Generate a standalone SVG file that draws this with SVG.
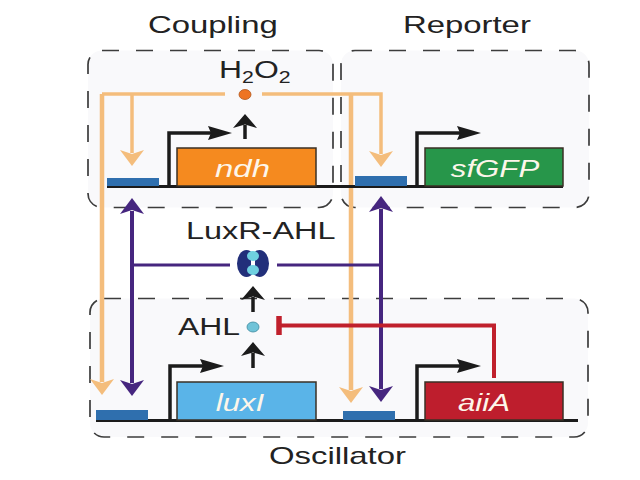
<svg xmlns="http://www.w3.org/2000/svg" width="640" height="480" viewBox="0 0 640 480">
<defs>
<style>
.panel{fill:#f9f9fb;stroke:#3c3c3c;stroke-width:1.7;stroke-dasharray:17 17}
.lbl{font-family:"Liberation Sans",Arial,sans-serif;fill:#222;font-size:24px}
.gene{font-family:"Liberation Sans",Arial,sans-serif;font-style:italic;fill:#fdf6ea;font-size:24px;text-anchor:middle}
.or{fill:none;stroke:#f4bd7c;stroke-width:4.500}
.orh{fill:none;stroke:#f4bd7c;stroke-width:3.500}
.pu{fill:none;stroke:#46267f;stroke-width:4}
.puh{fill:none;stroke:#46267f;stroke-width:3}
.bl{fill:none;stroke:#1b1b1b;stroke-width:3.500}
.base{stroke:#1b1b1b;stroke-width:3;fill:none}
.site{fill:#2f6fae}
.box{stroke:#3a3026;stroke-width:1.5}
</style>
<marker id="ao" markerUnits="userSpaceOnUse" markerWidth="20" markerHeight="26" refX="3" refY="12" orient="auto"><path d="M0 0L16 12L0 24L4 12Z" fill="#f4bd7c"/></marker>
<marker id="ap" markerUnits="userSpaceOnUse" markerWidth="20" markerHeight="26" refX="3" refY="12" orient="auto-start-reverse"><path d="M0 0L16 12L0 24L4 12Z" fill="#46267f"/></marker>
<marker id="ab" markerUnits="userSpaceOnUse" markerWidth="26" markerHeight="16" refX="3" refY="7" orient="auto"><path d="M0 0L24 7L0 14L3 7Z" fill="#1b1b1b"/></marker>
<marker id="as" markerUnits="userSpaceOnUse" markerWidth="18" markerHeight="26" refX="3" refY="12" orient="auto"><path d="M0 0L14 12L0 24L3.500 12Z" fill="#1b1b1b"/></marker>
</defs>
<rect width="640" height="480" fill="#fff"/>
<g id="panel-coupling"><rect class="panel" x="88" y="50.500" width="245" height="157" rx="14"/></g>
<g id="panel-reporter"><rect class="panel" x="341" y="50.500" width="248" height="157" rx="14"/></g>
<g id="panel-oscillator"><rect class="panel" x="90" y="298.500" width="498" height="138.500" rx="14"/></g>
<g id="titles">
<text class="lbl" transform="translate(148 33) scale(1.37 1)">Coupling</text>
<text class="lbl" transform="translate(403 33) scale(1.37 1)">Reporter</text>
<text class="lbl" transform="translate(269 464) scale(1.37 1)">Oscillator</text>
</g>
<g id="connectors">
<path class="orh" d="M225 94H102"/>
<path class="or" d="M102 94V382" marker-end="url(#ao)"/>
<path class="orh" d="M132 94V153" marker-end="url(#ao)"/>
<path class="orh" d="M262 94H381V154" marker-end="url(#ao)"/>
<path class="or" d="M351 94V390" marker-end="url(#ao)"/>
<path class="pu" d="M132 211V383" marker-start="url(#ap)" marker-end="url(#ap)"/>
<path class="pu" d="M381 209V389" marker-start="url(#ap)" marker-end="url(#ap)"/>
<path class="puh" d="M134 265H230M277 265H381"/>
<path fill="none" stroke="#c0202c" stroke-width="4" d="M280 325.500H494V378"/>
<path fill="none" stroke="#c0202c" stroke-width="5.500" d="M279 316V335"/>
<path class="bl" d="M245 139V125" marker-end="url(#as)"/>
<path class="bl" d="M253 312V297" marker-end="url(#as)"/>
<path class="bl" d="M253 368V353" marker-end="url(#as)"/>
<path class="bl" d="M169 186V133H211" marker-end="url(#ab)"/>
<path class="bl" d="M417 186V133H460" marker-end="url(#ab)"/>
<path class="bl" d="M170 420V366H203" marker-end="url(#ab)"/>
<path class="bl" d="M417 420V366H460" marker-end="url(#ab)"/>
<path class="base" d="M107 186.500H563"/>
<path class="base" d="M96 420.500H578"/>
</g>
<g id="site-1"><rect class="site" x="107" y="178" width="52" height="8"/></g>
<g id="site-2"><rect class="site" x="355" y="176" width="52" height="10"/></g>
<g id="site-3"><rect class="site" x="96" y="410" width="52" height="10"/></g>
<g id="site-4"><rect class="site" x="343" y="411" width="52" height="9"/></g>
<g id="ndh"><rect class="box" x="177" y="148" width="139" height="38" fill="#f58a1f"/><text class="gene" transform="translate(242.500 177) scale(1.37 1)">ndh</text></g>
<g id="sfGFP"><rect class="box" x="425" y="148" width="138" height="38" fill="#27964a"/><text class="gene" transform="translate(495 177) scale(1.3 1)">sfGFP</text></g>
<g id="luxI"><rect class="box" x="177" y="382" width="139" height="38" fill="#5ab4e8"/><text class="gene" transform="translate(240 411) scale(1.3 1)">luxI</text></g>
<g id="aiiA"><rect class="box" x="425" y="382" width="138" height="38" fill="#be1e2d"/><text class="gene" transform="translate(484 411) scale(1.3 1)">aiiA</text></g>
<g id="h2o2"><text class="lbl" transform="translate(219 78) scale(1.33 1)">H<tspan font-size="16" dy="5">2</tspan><tspan dy="-5">O</tspan><tspan font-size="16" dy="5">2</tspan></text><ellipse cx="245" cy="94.500" rx="6" ry="5" fill="#ee7423" stroke="#b0561c" stroke-width="0.800"/></g>
<g id="luxr-ahl"><text class="lbl" transform="translate(186 239) scale(1.35 1)">LuxR-AHL</text>
<ellipse cx="246.500" cy="263.500" rx="9.500" ry="13.500" fill="#222f7a"/><ellipse cx="259.500" cy="263.500" rx="9.500" ry="13.500" fill="#222f7a"/>
<rect x="251" y="259" width="4" height="9" fill="#fff"/>
<ellipse cx="253" cy="256" rx="6" ry="5" fill="#6fd0e0"/><ellipse cx="253" cy="270" rx="6" ry="5" fill="#6fd0e0"/></g>
<g id="ahl"><text class="lbl" transform="translate(178 335) scale(1.33 1)">AHL</text><ellipse cx="253" cy="327" rx="6" ry="5" fill="#6fc3d8" stroke="#3d8aa0" stroke-width="0.800"/></g>
</svg>
